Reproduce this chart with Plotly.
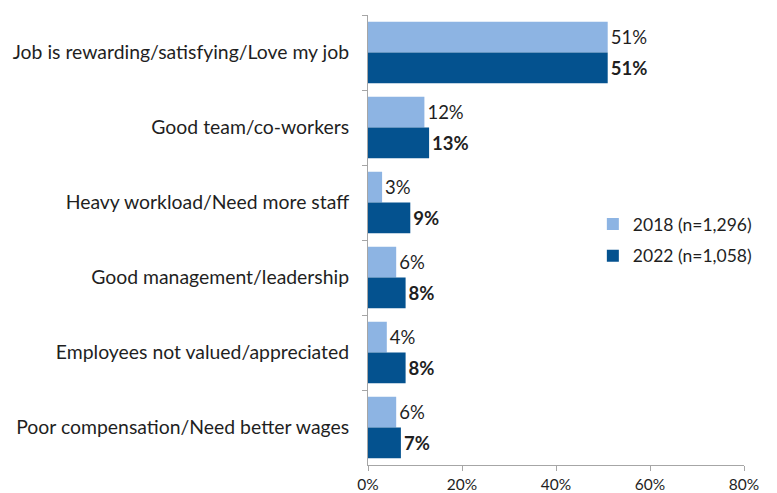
import plotly.graph_objects as go

categories = [
    "Job is rewarding/satisfying/Love my job",
    "Good team/co-workers",
    "Heavy workload/Need more staff",
    "Good management/leadership",
    "Employees not valued/appreciated",
    "Poor compensation/Need better wages",
]
values_2018 = [51, 12, 3, 6, 4, 6]
values_2022 = [51, 13, 9, 8, 8, 7]
series_names = ["2018 (n=1,296)", "2022 (n=1,058)"]
x_ticks = [0, 20, 40, 60, 80]

FONT = "Lato"
TEXT = "#1f1f1f"
LIGHT = "#8DB4E3"
DARK = "#04528F"

fig = go.Figure()
fig.add_trace(go.Bar(
    y=categories, x=values_2018, orientation="h", name=series_names[0],
    legendgroup="a",
    marker=dict(color=LIGHT, line=dict(width=0)),
    text=[f"{v}%" for v in values_2018], textposition="outside",
    textfont=dict(family=FONT, size=18.5, color=TEXT), cliponaxis=False,
))
fig.add_trace(go.Bar(
    y=categories, x=values_2022, orientation="h", name=series_names[1],
    legendgroup="b",
    marker=dict(color=DARK, line=dict(width=0)),
    text=[f"<b>{v}%</b>" for v in values_2022], textposition="outside",
    textfont=dict(family=FONT, size=18.5, color=TEXT), cliponaxis=False,
))

fig.update_layout(
    width=777, height=493,
    margin=dict(l=368, r=33, t=15, b=28),
    paper_bgcolor="white", plot_bgcolor="white",
    barmode="group", bargap=0.18, bargroupgap=0,
    font=dict(family=FONT, size=16, color=TEXT),
    legend=dict(
        x=0.598, y=0.5, xanchor="left", yanchor="middle",
        traceorder="grouped", tracegroupgap=6,
        font=dict(family=FONT, size=17.5, color=TEXT),
        itemwidth=30, bgcolor="rgba(0,0,0,0)",
    ),
    xaxis=dict(
        range=[0, 80], tickvals=x_ticks, ticktext=[f"{t}%" for t in x_ticks],
        automargin=False,
        showgrid=False, zeroline=False, showline=True, linecolor="#a6a6a6", linewidth=1,
        ticks="outside", ticklen=5, tickcolor="#a6a6a6",
        tickfont=dict(family=FONT, size=15.5, color=TEXT),
    ),
    yaxis=dict(
        autorange="reversed", automargin=False, showgrid=False, zeroline=False,
        showline=True, linecolor="#a6a6a6", linewidth=1,
        ticks="outside", tickson="boundaries", ticklen=5, tickcolor="#a6a6a6",
        tickfont=dict(family=FONT, size=19.4, color=TEXT),
        ticklabelstandoff=14,
    ),
)

fig.write_html("out.html")
